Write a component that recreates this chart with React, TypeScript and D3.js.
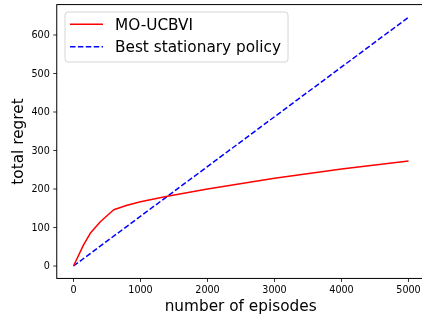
import { useEffect, useRef } from 'react';
import * as d3 from 'd3';

// episodes / total regret
const ucbviEpisodes = [0, 150, 250, 400, 600, 800, 1000, 1400, 2000, 3000, 4000, 5000];
const ucbviRegret = [0, 55, 85, 115, 146, 158, 167, 181, 200, 228, 252, 273];
const stationaryEpisodes = [0, 5000];
const stationaryRegret = [0, 646];

const xTicks = [0, 1000, 2000, 3000, 4000, 5000];
const yTicks = [0, 100, 200, 300, 400, 500, 600];
const seriesNames = ['MO-UCBVI', 'Best stationary policy'];

const FONT = '"DejaVu Sans", sans-serif';

export default function App() {
  const svgRef = useRef<SVGSVGElement>(null);

  useEffect(() => {
    if (!svgRef.current) return;
    const svg = d3.select(svgRef.current);
    svg.selectAll('*').remove();

    const width = 422;
    const height = 316;

    const x = d3.scaleLinear().domain([0, 5000]).range([73.5, 408.5]);
    const y = d3.scaleLinear().domain([0, 600]).range([266, 35]);

    // axes frame (matplotlib-like 5% margins)
    const x0 = x(-250);
    const x1 = x(5250);
    const yTop = y(679);
    const yBot = y(-32.3);

    svg.attr('width', width).attr('height', height).attr('viewBox', `0 0 ${width} ${height}`);

    svg.append('rect')
      .attr('x', x0)
      .attr('y', yTop)
      .attr('width', x1 - x0)
      .attr('height', yBot - yTop)
      .attr('fill', 'white')
      .attr('stroke', '#000')
      .attr('stroke-width', 1);

    // lines
    const line = d3.line<[number, number]>()
      .x((d) => x(d[0]))
      .y((d) => y(d[1]));

    const ucbvi = ucbviEpisodes.map((e, i) => [e, ucbviRegret[i]] as [number, number]);
    const stationary = stationaryEpisodes.map((e, i) => [e, stationaryRegret[i]] as [number, number]);

    svg.append('path')
      .datum(stationary)
      .attr('d', line)
      .attr('fill', 'none')
      .attr('stroke', '#0000ff')
      .attr('stroke-width', 1.5)
      .attr('stroke-dasharray', '5.5,2.4');

    svg.append('path')
      .datum(ucbvi)
      .attr('d', line)
      .attr('fill', 'none')
      .attr('stroke', '#ff0000')
      .attr('stroke-width', 1.5)
      .attr('stroke-linejoin', 'round');

    // x ticks
    xTicks.forEach((t) => {
      svg.append('line')
        .attr('x1', x(t)).attr('x2', x(t))
        .attr('y1', yBot).attr('y2', yBot + 3.5)
        .attr('stroke', '#000').attr('stroke-width', 0.8);
      svg.append('text')
        .attr('x', x(t))
        .attr('y', yBot + 14.5)
        .attr('text-anchor', 'middle')
        .attr('font-family', FONT)
        .attr('font-size', 9.6)
        .attr('fill', '#000')
        .text(t);
    });

    // y ticks
    yTicks.forEach((t) => {
      svg.append('line')
        .attr('x1', x0 - 3.5).attr('x2', x0)
        .attr('y1', y(t)).attr('y2', y(t))
        .attr('stroke', '#000').attr('stroke-width', 0.8);
      svg.append('text')
        .attr('x', x0 - 7)
        .attr('y', y(t))
        .attr('dy', '0.35em')
        .attr('text-anchor', 'end')
        .attr('font-family', FONT)
        .attr('font-size', 9.6)
        .attr('fill', '#000')
        .text(t);
    });

    // axis labels
    svg.append('text')
      .attr('x', (x0 + x(5000) + 16) / 2)
      .attr('y', 311)
      .attr('text-anchor', 'middle')
      .attr('font-family', FONT)
      .attr('font-size', 15.3)
      .text('number of episodes');

    svg.append('text')
      .attr('transform', `translate(23, ${(yTop + yBot) / 2}) rotate(-90)`)
      .attr('text-anchor', 'middle')
      .attr('font-family', FONT)
      .attr('font-size', 15.3)
      .text('total regret');

    // legend
    const legend = svg.append('g');
    legend.append('rect')
      .attr('x', 65).attr('y', 12)
      .attr('width', 223).attr('height', 50)
      .attr('rx', 3)
      .attr('fill', 'white').attr('fill-opacity', 0.8)
      .attr('stroke', '#cccccc').attr('stroke-width', 0.8);

    const colors = ['#ff0000', '#0000ff'];
    const dashes = [null, '5.5,2.4'];
    seriesNames.forEach((name, i) => {
      const ly = 24.3 + i * 22.4;
      legend.append('line')
        .attr('x1', 70).attr('x2', 103)
        .attr('y1', ly).attr('y2', ly)
        .attr('stroke', colors[i])
        .attr('stroke-width', 1.5)
        .attr('stroke-dasharray', dashes[i]);
      legend.append('text')
        .attr('x', 115)
        .attr('y', ly)
        .attr('dy', '0.36em')
        .attr('font-family', FONT)
        .attr('font-size', 15.3)
        .text(name);
    });
  }, []);

  return (
    <div style={{ position: 'fixed', left: 0, top: 0 }}>
      <svg ref={svgRef} style={{ display: 'block' }} />
    </div>
  );
}
